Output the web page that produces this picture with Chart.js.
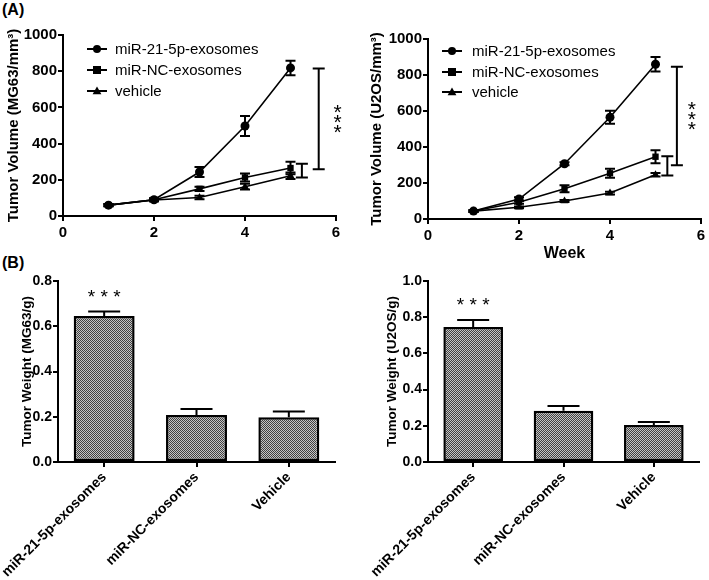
<!DOCTYPE html>
<html>
<head>
<meta charset="utf-8">
<script src="https://cdn.jsdelivr.net/npm/chart.js@4.4.1/dist/chart.umd.min.js"></script>
<style>
  body { margin: 0; background: #fff; }
  #fig { position: relative; width: 709px; height: 580px; font-family: 'Liberation Sans', Arial, sans-serif; }
  #fig canvas { position: absolute; }
  .tag { position: absolute; font-weight: bold; font-size: 16px; }
</style>
</head>
<body>
<div id="fig">
  <div class="tag" style="left:2px;top:1px;">(A)</div>
  <div class="tag" style="left:2px;top:254px;">(B)</div>
  <canvas id="mg-volume" width="350" height="250" style="left:0;top:0;"></canvas>
  <canvas id="u2-volume" width="359" height="264" style="left:350px;top:0;"></canvas>
  <canvas id="mg-weight" width="350" height="330" style="left:0;top:250px;"></canvas>
  <canvas id="u2-weight" width="359" height="315" style="left:350px;top:265px;"></canvas>
</div>
<script>
//DATOS
const weeks = [1, 2, 3, 4, 5];
const seriesNames = ['miR-21-5p-exosomes', 'miR-NC-exosomes', 'vehicle'];

const mgMir21 = [60, 90, 243, 497, 818];
const mgMir21Err = [6, 8, 28, 55, 40];
const mgNC = [60, 90, 150, 213, 265];
const mgNCErr = [6, 7, 12, 22, 35];
const mgVehicle = [60, 88, 102, 162, 222];
const mgVehicleErr = [5, 6, 10, 16, 18];
const mgSigX = [5.25, 5.62];
const mgSigLow = [213, 258];
const mgSigHigh = [288, 815];

const u2Mir21 = [44, 111, 307, 565, 860];
const u2Mir21Err = [5, 10, 8, 36, 40];
const u2NC = [44, 93, 168, 254, 346];
const u2NCErr = [5, 8, 20, 25, 36];
const u2Vehicle = [44, 65, 100, 144, 246];
const u2VehicleErr = [4, 5, 6, 8, 10];
const u2SigX = [5.26, 5.47];
const u2SigLow = [241, 298];
const u2SigHigh = [348, 846];

const groups = ['miR-21-5p-exosomes', 'miR-NC-exosomes', 'Vehicle'];
const mgWeight = [0.645, 0.208, 0.198];
const mgWeightErr = [0.02, 0.026, 0.025];
const u2Weight = [0.746, 0.283, 0.204];
const u2WeightErr = [0.038, 0.026, 0.017];

const FONT = "'Liberation Sans', Arial, sans-serif";
const markers = ['circle', 'rect', 'triangle'];

function pts(ys) {
    return weeks.map((w, i) => ({ x: w, y: ys[i] }));
}

//marcador a mano (legend)
function drawMarker(ctx, style, x, y, r) {
    ctx.beginPath();
    if (style === 'circle') {
        ctx.arc(x, y, r, 0, Math.PI * 2);
    } else if (style === 'rect') {
        ctx.rect(x - r, y - r, r * 2, r * 2);
    } else {
        ctx.moveTo(x, y - r * 1.1);
        ctx.lineTo(x + r * 1.1, y + r * 0.8);
        ctx.lineTo(x - r * 1.1, y + r * 0.8);
        ctx.closePath();
    }
    ctx.fill();
}

//barras de error
const errorBars = {
    id: 'errorBars',
    afterDatasetsDraw(chart, args, opts) {
        const ctx = chart.ctx;
        ctx.save();
        ctx.strokeStyle = '#000';
        ctx.lineWidth = 2;
        chart.data.datasets.forEach((ds, i) => {
            if (!ds.errors) return;
            const meta = chart.getDatasetMeta(i);
            const ys = chart.scales[meta.yAxisID];
            meta.data.forEach((el, j) => {
                const raw = ds.data[j];
                const v = typeof raw === 'object' ? raw.y : raw;
                const e = ds.errors[j];
                const top = ys.getPixelForValue(v + e);
                const bot = opts.upOnly ? el.y : ys.getPixelForValue(v - e);
                const c = opts.cap;
                ctx.beginPath();
                ctx.moveTo(el.x, top); ctx.lineTo(el.x, bot);
                ctx.moveTo(el.x - c, top); ctx.lineTo(el.x + c, top);
                if (!opts.upOnly) {
                    ctx.moveTo(el.x - c, bot); ctx.lineTo(el.x + c, bot);
                }
                ctx.stroke();
            });
        });
        ctx.restore();
    }
};

//corchetes de significancia + asteriscos
const sigMarks = {
    id: 'sigMarks',
    afterDraw(chart, args, opts) {
        const ctx = chart.ctx;
        const xs = chart.scales.x, ys = chart.scales.y;
        ctx.save();
        ctx.strokeStyle = '#000';
        ctx.fillStyle = '#000';
        ctx.lineWidth = 2;
        if (opts.xs) {
            opts.xs.forEach((xv, k) => {
                const x = xs.getPixelForValue(xv);
                const y1 = ys.getPixelForValue(opts.low[k]);
                const y2 = ys.getPixelForValue(opts.high[k]);
                ctx.beginPath();
                ctx.moveTo(x, y1); ctx.lineTo(x, y2);
                ctx.moveTo(x - 6, y1); ctx.lineTo(x + 6, y1);
                ctx.moveTo(x - 6, y2); ctx.lineTo(x + 6, y2);
                ctx.stroke();
            });
            const last = opts.xs.length - 1;
            const sx = xs.getPixelForValue(opts.xs[last]) + opts.starDx;
            const sy = (ys.getPixelForValue(opts.low[last]) + ys.getPixelForValue(opts.high[last])) / 2;
            ctx.font = '21px ' + FONT;
            ctx.textAlign = 'center';
            ctx.textBaseline = 'middle';
            [-10, 0, 10].forEach(d => ctx.fillText('*', sx, sy + d + 4));
        }
        if (opts.barStars) {
            const ds = chart.data.datasets[0];
            const meta = chart.getDatasetMeta(0);
            const el = meta.data[0];
            const top = ys.getPixelForValue(ds.data[0] + ds.errors[0]);
            ctx.font = '19px ' + FONT;
            ctx.textAlign = 'center';
            ctx.textBaseline = 'middle';
            ctx.fillText('* * *', el.x, top - 14);
        }
        ctx.restore();
    }
};

//leyenda con linea y marcador
const lineLegend = {
    id: 'lineLegend',
    afterDraw(chart, args, opts) {
        if (!opts.rows) return;
        const ctx = chart.ctx;
        ctx.save();
        ctx.fillStyle = '#000';
        ctx.strokeStyle = '#000';
        ctx.lineWidth = 2;
        ctx.font = '15px ' + FONT;
        ctx.textBaseline = 'middle';
        chart.data.datasets.forEach((ds, i) => {
            const y = opts.rows[i];
            ctx.beginPath();
            ctx.moveTo(opts.x0, y); ctx.lineTo(opts.x0 + 20, y);
            ctx.stroke();
            drawMarker(ctx, markers[i], opts.x0 + 10, y, 4);
            ctx.fillText(ds.label, opts.tx, y + 1);
        });
        ctx.restore();
    }
};

function axisBase() {
    return {
        grid: { display: true, drawOnChartArea: false, drawTicks: true, tickLength: 5, color: '#000', lineWidth: 2, offset: false },
        border: { display: true, color: '#000', width: 2 }
    };
}

function volumeChart(id, series, errs, title, dims, legend, sig, showWeek) {
    const datasets = series.map((s, i) => ({
        label: seriesNames[i],
        data: pts(s),
        errors: errs[i],
        showLine: true,
        borderColor: '#000',
        borderWidth: 1.6,
        backgroundColor: '#000',
        pointStyle: markers[i],
        pointRadius: 4.5,
        pointBorderWidth: 0,
        order: 3 - i
    }));

    const xAxis = Object.assign(axisBase(), {
        type: 'linear', min: 0, max: 6,
        ticks: { stepSize: 2, color: '#000', padding: 3, font: { family: FONT, size: 15, weight: 'bold' } },
        title: { display: showWeek, text: 'Week', color: '#000', padding: { top: 2, bottom: 1 }, font: { family: FONT, size: 16, weight: 'bold' } },
        afterFit: s => { s.height = dims.xh; s.paddingLeft = 0; s.paddingRight = 0; }
    });
    const yAxis = Object.assign(axisBase(), {
        min: 0, max: 1000,
        ticks: { stepSize: 200, color: '#000', padding: 1, font: { family: FONT, size: 15, weight: 'bold' }, callback: v => String(v) },
        title: { display: true, text: title, color: '#000', padding: { top: dims.tp, bottom: dims.tp }, font: { family: FONT, size: 15, weight: 'bold' } },
        afterFit: s => { s.width = dims.yw; s.paddingTop = 0; s.paddingBottom = 0; }
    });

    new Chart(document.getElementById(id), {
        type: 'scatter',
        data: { datasets: datasets },
        options: {
            responsive: false,
            animation: false,
            layout: { padding: { top: dims.top, right: dims.right, left: 0, bottom: 0 } },
            scales: { x: xAxis, y: yAxis },
            plugins: {
                legend: { display: false },
                tooltip: { enabled: false },
                errorBars: { cap: 5, upOnly: false },
                sigMarks: sig,
                lineLegend: legend
            }
        },
        plugins: [errorBars, sigMarks, lineLegend]
    });
}

function checker() {
    const c = document.createElement('canvas');
    c.width = 2; c.height = 2;
    const g = c.getContext('2d');
    g.fillStyle = '#c4c4c4';
    g.fillRect(0, 0, 2, 2);
    g.fillStyle = '#404040';
    g.fillRect(0, 0, 1, 1);
    g.fillRect(1, 1, 1, 1);
    return g.createPattern(c, 'repeat');
}

function weightChart(id, values, errs, title, yMax, dims) {
    const xAxis = Object.assign(axisBase(), {
        ticks: { color: '#000', padding: 2, minRotation: 45, maxRotation: 45, font: { family: FONT, size: 14, weight: 'bold' } },
        afterFit: s => { s.height = dims.xh; s.paddingLeft = 0; s.paddingRight = 0; }
    });
    const yAxis = Object.assign(axisBase(), {
        min: 0, max: yMax,
        ticks: { stepSize: 0.2, color: '#000', padding: 1, font: { family: FONT, size: 14, weight: 'bold' }, callback: v => v.toFixed(1) },
        title: { display: true, text: title, color: '#000', padding: { top: dims.tp, bottom: dims.tp }, font: { family: FONT, size: 13.5, weight: 'bold' } },
        afterFit: s => { s.width = dims.yw; s.paddingTop = 0; s.paddingBottom = 0; }
    });

    new Chart(document.getElementById(id), {
        type: 'bar',
        data: {
            labels: groups,
            datasets: [{
                data: values,
                errors: errs,
                backgroundColor: checker(),
                borderColor: '#000',
                borderWidth: 2.5,
                borderSkipped: false,
                categoryPercentage: 1,
                barPercentage: 0.66
            }]
        },
        options: {
            responsive: false,
            animation: false,
            layout: { padding: { top: dims.top, right: dims.right, left: 0, bottom: 0 } },
            scales: { x: xAxis, y: yAxis },
            plugins: {
                legend: { display: false },
                tooltip: { enabled: false },
                errorBars: { cap: 16, upOnly: true },
                sigMarks: { barStars: true }
            }
        },
        plugins: [errorBars, sigMarks]
    });
}

volumeChart('mg-volume',
    [mgMir21, mgNC, mgVehicle],
    [mgMir21Err, mgNCErr, mgVehicleErr],
    'Tumor Volume (MG63/mm³)',
    { top: 35, right: 14, yw: 63, xh: 34, tp: 5 },
    { rows: [49, 70, 91], x0: 87, tx: 115 },
    { xs: mgSigX, low: mgSigLow, high: mgSigHigh, starDx: 19 },
    false);

volumeChart('u2-volume',
    [u2Mir21, u2NC, u2Vehicle],
    [u2Mir21Err, u2NCErr, u2VehicleErr],
    'Tumor Volume (U2OS/mm³)',
    { top: 39, right: 8, yw: 78, xh: 45, tp: 18 },
    { rows: [51, 72, 92], x0: 92, tx: 122 },
    { xs: u2SigX, low: u2SigLow, high: u2SigHigh, starDx: 15 },
    true);

weightChart('mg-weight', mgWeight, mgWeightErr, 'Tumor Weight (MG63/g)', 0.8,
    { top: 31, right: 15, yw: 58, xh: 118, tp: 19 });

weightChart('u2-weight', u2Weight, u2WeightErr, 'Tumor Weight (U2OS/g)', 1.0,
    { top: 16, right: 10, yw: 78, xh: 118, tp: 34 });
</script>
</body>
</html>
